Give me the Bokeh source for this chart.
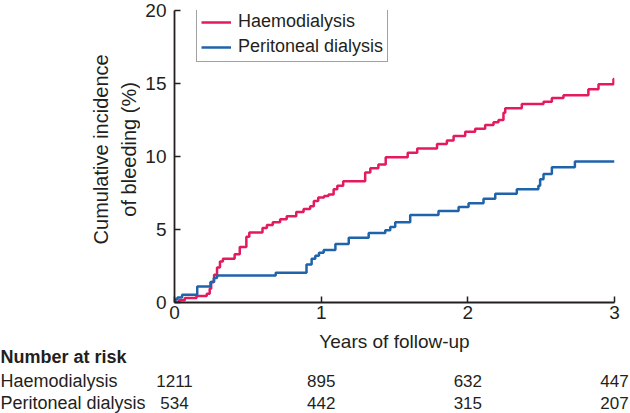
from bokeh.plotting import figure
from bokeh.models import Range1d
from bokeh.layouts import column, row
from bokeh.core.properties import value
from bokeh.embed import file_html
from bokeh.resources import INLINE

# ---- data ----
series_names = ["Haemodialysis", "Peritoneal dialysis"]

hd_years = [0, 0.03, 0.07, 0.15, 0.22, 0.24, 0.25, 0.27, 0.29, 0.31, 0.33, 0.41, 0.445,
            0.49, 0.51, 0.6, 0.63, 0.67, 0.72, 0.765, 0.83, 0.88, 0.925, 0.95, 0.98, 1.02,
            1.05, 1.085, 1.11, 1.15, 1.3, 1.335, 1.39, 1.44, 1.59, 1.655, 1.79, 1.857,
            1.903, 1.982, 2.05, 2.118, 2.175, 2.209, 2.243, 2.255, 2.368, 2.516, 2.573,
            2.652, 2.822, 2.891, 2.993, 3.0]
hd_pct = [0, 0.15, 0.3, 0.45, 0.6, 0.95, 1.4, 1.9, 2.4, 2.8, 3.0, 3.3, 3.8,
          4.5, 4.8, 5.1, 5.3, 5.5, 5.7, 5.9, 6.2, 6.4, 6.6, 6.95, 7.2, 7.3,
          7.4, 7.75, 8.0, 8.3, 8.9, 9.2, 9.45, 9.95, 10.25, 10.55, 10.85, 11.1,
          11.4, 11.7, 11.9, 12.15, 12.35, 12.5, 13.0, 13.3, 13.6, 13.75, 14.0,
          14.2, 14.6, 14.95, 15.3, 15.3]

pd_years = [0, 0.007, 0.02, 0.052, 0.155, 0.245, 0.268, 0.29, 0.69, 0.90, 0.935, 0.96,
            0.985, 1.017, 1.097, 1.188, 1.324, 1.437, 1.471, 1.505, 1.607, 1.8, 1.937,
            2.005, 2.107, 2.187, 2.334, 2.481, 2.493, 2.516, 2.573, 2.73, 3.0]
pd_pct = [0, 0.23, 0.35, 0.53, 1.1, 1.4, 1.67, 1.85, 2.03, 2.6, 3.0, 3.2,
          3.4, 3.6, 4.0, 4.43, 4.76, 4.95, 5.17, 5.5, 6.0, 6.26, 6.54,
          6.8, 7.1, 7.45, 7.75, 8.0, 8.45, 8.8, 9.27, 9.65, 9.65]

x_ticks = [0, 1, 2, 3]
y_ticks = [0, 5, 10, 15, 20]

risk_years = [0, 1, 2, 3]
hd_at_risk = [1211, 895, 632, 447]
pd_at_risk = [534, 442, 315, 207]

y_title = ["Cumulative incidence", "of bleeding (%)"]
x_title = "Years of follow-up"
table_title = "Number at risk"

# ---- style / layout ----
RED = "#E5195E"
BLUE = "#1F63AA"
INK = "#231F20"
FONT = "Liberation Sans"

PAGE_W, PAGE_H = 630, 413
FRAME_L, FRAME_R, FRAME_T, FRAME_B = 174, 614, 10, 302
TITLE_W = 140          # width of the strip holding the y-axis title
MAIN_H = 328           # height of the upper part
PX_PER_YEAR = (FRAME_R - FRAME_L) / 3.0


def bare(width, height, xr, yr):
    f = figure(width=width, height=height, x_range=xr, y_range=yr,
               x_axis_type=None, y_axis_type=None,
               output_backend="svg", toolbar_location=None, min_border=0)
    f.outline_line_color = None
    f.grid.visible = False
    return f


# --- y-axis title strip ---
pa = bare(TITLE_W, MAIN_H, Range1d(0, TITLE_W), Range1d(0, MAIN_H))
pa.text(x=[100, 128], y=[MAIN_H - 156, MAIN_H - 156], text=y_title, angle=1.5707963,
        text_align="center", text_baseline="middle", text_font=value(FONT),
        text_font_size="20px", text_color=INK)

# --- main plot ---
p = figure(width=PAGE_W - TITLE_W, height=MAIN_H,
           x_range=Range1d(0, 3), y_range=Range1d(0, 20),
           output_backend="svg", toolbar_location=None,
           min_border_left=FRAME_L - TITLE_W, min_border_right=PAGE_W - FRAME_R,
           min_border_top=FRAME_T, min_border_bottom=MAIN_H - FRAME_B)
p.outline_line_color = None
p.xgrid.visible = False
p.ygrid.visible = False

for ax in (p.xaxis[0], p.yaxis[0]):
    ax.major_tick_in = 6
    ax.major_tick_out = 0
    ax.minor_tick_in = 0
    ax.minor_tick_out = 0
    ax.axis_line_color = INK
    ax.axis_line_width = 1.8
    ax.major_tick_line_color = INK
    ax.major_tick_line_width = 1.5
    ax.major_label_text_font = FONT
    ax.major_label_text_font_size = "19px"
    ax.major_label_text_color = INK

p.xaxis.ticker = x_ticks
p.yaxis.ticker = y_ticks
p.xaxis.major_label_standoff = 3
p.yaxis.major_label_standoff = 8

p.step(hd_years, hd_pct, mode="after", line_color=RED, line_width=2.5,
       legend_label=series_names[0])
p.step(pd_years, pd_pct, mode="after", line_color=BLUE, line_width=2.5,
       legend_label=series_names[1])

FH = FRAME_B - FRAME_T
lg = p.legend[0]
lg.location = (22, FH - 52)
lg.padding = 4
lg.spacing = 4
lg.margin = 0
lg.label_height = 20
lg.glyph_height = 20
lg.glyph_width = 30
lg.label_standoff = 7
lg.label_text_font = FONT
lg.label_text_font_size = "18px"
lg.label_text_line_height = 1.0
lg.label_text_color = INK
lg.border_line_color = "#444444"
lg.border_line_width = 1.2
lg.background_fill_alpha = 1.0

# --- x-axis title and number-at-risk table ---
TAB_H = PAGE_H - MAIN_H
pb = bare(PAGE_W, TAB_H,
          Range1d(-FRAME_L / PX_PER_YEAR, (PAGE_W - FRAME_L) / PX_PER_YEAR),
          Range1d(0, TAB_H))


def yb(page_y):
    return PAGE_H - page_y


left_x = -FRAME_L / PX_PER_YEAR
pb.text(x=[1.5], y=[yb(341)], text=[x_title], text_align="center", text_baseline="middle",
        text_font=value(FONT), text_font_size="19px", text_color=INK)
pb.text(x=[left_x], y=[yb(356)], text=[table_title], text_align="left",
        text_baseline="middle", text_font=value(FONT), text_font_size="18px",
        text_font_style="bold", text_color=INK)
for name, counts, py in ((series_names[0], hd_at_risk, 380),
                         (series_names[1], pd_at_risk, 402)):
    pb.text(x=[left_x], y=[yb(py)], text=[name], text_align="left",
            text_baseline="middle", text_font=value(FONT), text_font_size="18px",
            text_color=INK)
    pb.text(x=risk_years, y=[yb(py)] * len(risk_years), text=[str(n) for n in counts],
            text_align="center", text_baseline="middle", text_font=value(FONT),
            text_font_size="17px", text_color=INK)

layout = column(row(pa, p), pb)
open("out.html", "w").write(file_html(layout, INLINE))
